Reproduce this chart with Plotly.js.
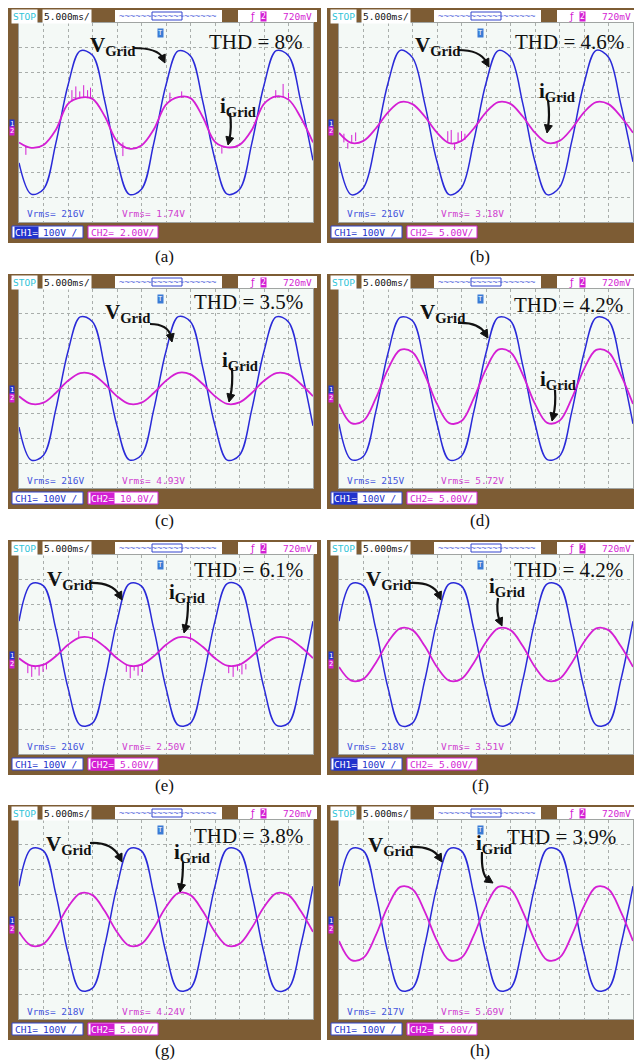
<!DOCTYPE html>
<html><head><meta charset="utf-8">
<script src="https://cdn.plot.ly/plotly-3.0.1.min.js"></script>
<style>body{margin:0;background:#fff}#chart{width:634px;height:1064px}</style>
</head><body><div id="chart"></div>
<script>
// ---------------- DATA ----------------
// time axis, ms (5 ms/div, 12 divisions)
const T = [0,2.5,5,7.5,10,12.5,15,17.5,20,22.5,25,27.5,30,32.5,35,37.5,40,42.5,45,47.5,50,52.5,55,57.5,60];
// grid voltage (CH1), in screen divisions (100 V/div)
const vA = [-1.62,-2.88,-2.68,-0.85,1.50,2.88,2.70,0.86,-1.50,-2.89,-2.68,-0.84,1.51,2.88,2.67,0.85,-1.49,-2.88,-2.69,-0.85,1.50,2.89,2.68,0.85,-1.52];
const vB = [-1.58,-2.90,-2.62,-0.76,1.58,2.90,2.61,0.76,-1.57,-2.90,-2.62,-0.75,1.58,2.89,2.62,0.77,-1.58,-2.90,-2.61,-0.76,1.57,2.90,2.62,0.75,-1.58];
const vC = [-1.55,-2.88,-2.68,-0.85,1.49,2.88,2.68,0.85,-1.50,-2.87,-2.67,-0.85,1.50,2.89,2.68,0.84,-1.49,-2.88,-2.68,-0.85,1.50,2.88,2.67,0.85,-1.50];
const vD = [-1.42,-2.86,-2.72,-0.94,1.42,2.86,2.72,0.94,-1.42,-2.87,-2.71,-0.94,1.43,2.86,2.72,0.93,-1.42,-2.86,-2.72,-0.94,1.42,2.85,2.72,0.94,-1.42];
const vE = [1.34,2.84,2.76,1.04,-1.34,-2.84,-2.76,-1.04,1.34,2.84,2.75,1.04,-1.35,-2.84,-2.76,-1.03,1.34,2.85,2.76,1.04,-1.34,-2.84,-2.76,-1.04,1.34];
const vF = [1.34,2.84,2.76,1.04,-1.34,-2.85,-2.76,-1.04,1.34,2.84,2.76,1.03,-1.34,-2.84,-2.75,-1.04,1.35,2.84,2.76,1.04,-1.34,-2.84,-2.76,-1.04,1.34];
const vG = [1.34,2.84,2.76,1.04,-1.34,-2.84,-2.76,-1.04,1.33,2.84,2.76,1.04,-1.34,-2.84,-2.76,-1.04,1.34,2.84,2.75,1.04,-1.34,-2.85,-2.76,-1.04,1.34];
const vH = [1.34,2.84,2.76,1.04,-1.34,-2.84,-2.76,-1.04,1.34,2.84,2.76,1.04,-1.34,-2.84,-2.76,-1.04,1.34,2.84,2.76,1.04,-1.34,-2.84,-2.76,-1.04,1.34];
// grid current (CH2), in screen divisions
const iA = [-0.80,-1.02,-0.90,-0.30,0.75,1.00,0.95,0.25,-0.75,-1.05,-0.92,-0.28,0.72,1.02,0.98,0.22,-0.78,-1.00,-0.90,-0.30,0.75,1.05,0.92,0.20,-0.80];
const iB = [-0.42,-0.82,-0.74,-0.24,0.41,0.82,0.74,0.24,-0.41,-0.83,-0.74,-0.24,0.41,0.82,0.75,0.24,-0.41,-0.82,-0.74,-0.25,0.41,0.82,0.74,0.24,-0.41];
const iC = [-0.31,-0.62,-0.57,-0.18,0.31,0.62,0.57,0.18,-0.31,-0.62,-0.57,-0.18,0.31,0.63,0.57,0.18,-0.31,-0.62,-0.56,-0.18,0.31,0.62,0.57,0.18,-0.31];
const iD = [-0.62,-1.39,-1.30,-0.40,0.78,1.55,1.46,0.56,-0.62,-1.39,-1.31,-0.40,0.78,1.56,1.46,0.56,-0.62,-1.38,-1.30,-0.40,0.78,1.55,1.46,0.56,-0.62];
const iE = [-0.15,-0.45,-0.41,-0.07,0.39,0.69,0.65,0.31,-0.15,-0.45,-0.41,-0.07,0.39,0.69,0.65,0.31,-0.15,-0.45,-0.41,-0.07,0.39,0.69,0.65,0.31,-0.15];
const iF = [-0.50,-1.05,-0.98,-0.34,0.50,1.05,0.98,0.34,-0.50,-1.05,-0.98,-0.34,0.50,1.05,0.98,0.34,-0.50,-1.05,-0.98,-0.34,0.50,1.05,0.98,0.34,-0.50];
const iG = [-0.50,-1.05,-0.98,-0.34,0.50,1.05,0.98,0.34,-0.50,-1.05,-0.98,-0.34,0.50,1.06,0.98,0.34,-0.50,-1.05,-0.98,-0.34,0.50,1.05,0.98,0.34,-0.50];
const iH = [-0.86,-1.63,-1.54,-0.64,0.54,1.31,1.22,0.32,-0.86,-1.63,-1.54,-0.64,0.54,1.31,1.22,0.32,-0.86,-1.63,-1.54,-0.64,0.54,1.31,1.22,0.32,-0.86];
// current noise spikes: time, start level, tip level (divisions)
const spkA_t = [1.4,10.8,11.6,12.4,13.2,14.0,14.6,21.2,30.8,33.2,41.4,52.4,53.9,55.0];
const spkA_b = [-0.95,0.85,0.92,0.96,1.00,0.98,0.95,-0.80,0.85,1.00,-0.95,0.98,1.00,0.95];
const spkA_e = [-1.30,1.30,1.45,1.25,1.50,1.30,1.40,-1.35,1.20,1.25,-1.25,1.30,1.55,1.20];
const spkB_t = [1.0,1.8,2.6,3.4,22.2,22.9,23.6,24.3,25.0,25.7,44.5];
const spkB_b = [-0.80,-0.82,-0.80,-0.75,-0.78,-0.82,-0.83,-0.80,-0.76,-0.70,-0.80];
const spkB_e = [-0.45,-1.05,-0.50,-0.40,-0.35,-0.30,-1.10,-0.40,-0.35,-0.45,-1.00];
const spkE_t = [1.8,2.6,3.3,4.1,4.9,5.6,12.2,15.0,21.9,22.7,23.5,24.3,25.2,35.0,42.8,43.7,44.6,45.5,46.3];
const spkE_b = [-0.42,-0.45,-0.46,-0.45,-0.42,-0.38,0.68,0.66,-0.42,-0.45,-0.46,-0.45,-0.42,0.60,-0.44,-0.46,-0.45,-0.42,-0.38];
const spkE_e = [-0.75,-0.90,-0.60,-0.85,-0.70,-0.60,0.95,0.90,-0.70,-0.95,-0.65,-0.85,-0.70,0.85,-0.75,-0.90,-0.65,-0.80,-0.60];
// texts
const panelTags = ['(a)','(b)','(c)','(d)','(e)','(f)','(g)','(h)'];
const thdText = ['THD = 8%','THD = 4.6%','THD = 3.5%','THD = 4.2%','THD = 6.1%','THD = 4.2%','THD = 3.8%','THD = 3.9%'];
const ch1Rms = ['216V','216V','216V','215V','216V','218V','218V','217V'];
const ch2Rms = ['1.74V','3.18V','4.93V','5.72V','2.50V','3.51V','4.24V','5.69V'];
const ch1Scale = ['100V /','100V /','100V /','100V /','100V /','100V /','100V /','100V /'];
const ch2Scale = ['2.00V/','5.00V/','10.0V/','5.00V/','5.00V/','5.00V/','5.00V/','5.00V/'];
const selCh = [1,0,2,1,2,1,2,2];
const timeBase = '5.000ms/';
const trigLevel = '720mV';

// ---------------- LAYOUT / STYLE ----------------
const W = 634, H = 1064;
const px = x => x / W, py = y => 1 - y / H;
const colX0 = [8, 327], colSX = [19, 339], colX1 = [321, 640];
const rowY0 = [8, 274, 540, 805], rowSY = [23, 289, 555, 820];
const SW = 294, SH = 199;
const BROWN = '#7d5c34', SCREEN = '#f4f9f6';
const BLUE = '#2a2ad8', MAG = '#d41fd4';
const MONO = 'DejaVu Sans Mono', SERIF = 'Liberation Serif';

const vSeries = [vA,vB,vC,vD,vE,vF,vG,vH];
const iSeries = [iA,iB,iC,iD,iE,iF,iG,iH];
const spikeSets = [[spkA_t,spkA_b,spkA_e],[spkB_t,spkB_b,spkB_e],null,null,[spkE_t,spkE_b,spkE_e],null,null,null];

const vgPos = [[88,42],[413,42],[103,309],[418,309],[45,576],[364,576],[44,841],[366,842]];
const igPos = [[218,103],[537,88],[220,357],[538,376],[167,589],[487,583],[172,849],[474,840]];
const thdPos = [[305,42],[626,42],[305,302],[625,305],[305,570],[625,570],[305,836],[618,837]];
const vArrow = [[133,48,158,48,165,63],[458,50,480,50,489,67],[150,324,168,324,172,342],[458,323,478,322,488,338],[89,583,112,582,122,600],[410,583,433,582,441,600],[90,843,112,842,122,862],[410,847,432,846,442,862]];
const iArrow = [[230,113,232,128,228,145],[548,100,550,116,547,133],[232,368,233,385,229,402],[555,390,556,405,552,421],[188,602,188,618,184,633],[498,598,496,612,502,626],[183,862,183,877,180,892],[482,852,481,875,493,883]];
const tagY = [256,256,520,520,785,785,1050,1050];

const traces = [], shapes = [], annotations = [];
const layout = {width:W, height:H, margin:{l:0,r:0,t:0,b:0}, paper_bgcolor:'#fff', plot_bgcolor:'rgba(0,0,0,0)', showlegend:false};

function ann(x, y, text, o) {
  annotations.push(Object.assign({xref:'paper', yref:'paper', x:px(x), y:py(y), text:text, showarrow:false, xanchor:'left', yanchor:'middle'}, o||{}));
}
function rect(x0,y0,x1,y1,fill,line,layer) {
  shapes.push({type:'rect', xref:'paper', yref:'paper', x0:px(x0), x1:px(x1), y0:py(y1), y1:py(y0), fillcolor:fill, line:line||{width:0}, layer:layer||'above'});
}
function curve(a) {
  const [x0,y0,cx,cy,x1,y1] = a;
  const dx = x1-cx, dy = y1-cy, L = Math.hypot(dx,dy) || 1;
  const ux = dx/L, uy = dy/L, hl = 8, hw = 4;
  const ex = x1 - ux*hl*0.7, ey = y1 - uy*hl*0.7;
  shapes.push({type:'path', xref:'paper', yref:'paper', layer:'above',
    path:`M ${px(x0)},${py(y0)} Q ${px(cx)},${py(cy)} ${px(ex)},${py(ey)}`, line:{color:'#111', width:2.2}});
  const bx = x1 - ux*hl, by = y1 - uy*hl;
  const lx = bx - uy*hw, ly = by + ux*hw, rx = bx + uy*hw, ry = by - ux*hw;
  shapes.push({type:'path', xref:'paper', yref:'paper', layer:'above', fillcolor:'#111',
    path:`M ${px(x1)},${py(y1)} L ${px(lx)},${py(ly)} L ${px(rx)},${py(ry)} Z`, line:{color:'#111', width:1}});
}

for (let p = 0; p < 8; p++) {
  const c = p % 2, r = Math.floor(p / 2);
  const X0 = colX0[c], SX = colSX[c], X1 = colX1[c];
  const Y0 = rowY0[r], SY = rowSY[r];
  const s = p === 0 ? '' : String(p + 1);
  rect(X0, Y0, X1, Y0 + 235, BROWN, {width:0}, 'below');
  rect(SX, SY, SX + SW, SY + SH, SCREEN, {width:0}, 'below');
  layout['xaxis' + s] = {domain:[px(SX), px(SX + SW)], range:[0,60], dtick:5, tick0:0, showgrid:true,
    gridcolor:'#a9aeab', griddash:'dot', gridwidth:1, zeroline:false, showticklabels:false, ticks:'',
    showline:true, mirror:true, linecolor:'#a0a4a2', linewidth:1, anchor:'y' + s, fixedrange:true};
  layout['yaxis' + s] = {domain:[py(SY + SH), py(SY)], range:[-4,4], dtick:1, tick0:0, showgrid:true,
    gridcolor:'#a9aeab', griddash:'dot', gridwidth:1, zeroline:false, showticklabels:false, ticks:'',
    showline:true, mirror:true, linecolor:'#a0a4a2', linewidth:1, anchor:'x' + s, fixedrange:true};
  traces.push({x:T, y:vSeries[p], xaxis:'x' + s, yaxis:'y' + s, mode:'lines', line:{color:BLUE, width:1.5, shape:'spline', smoothing:1}, hoverinfo:'skip'});
  traces.push({x:T, y:iSeries[p], xaxis:'x' + s, yaxis:'y' + s, mode:'lines', line:{color:MAG, width:1.8, shape:'spline', smoothing:1}, hoverinfo:'skip'});
  const sp = spikeSets[p];
  if (sp) {
    const xs = [], ys = [];
    sp[0].forEach((t, k) => { xs.push(t, t, null); ys.push(sp[1][k], sp[2][k], null); });
    traces.push({x:xs, y:ys, xaxis:'x' + s, yaxis:'y' + s, mode:'lines', line:{color:MAG, width:1}, hoverinfo:'skip'});
  }
  // top bar
  ann(X0 + 3, Y0 + 8, 'STOP', {font:{family:MONO, size:9.5, color:'#2fc4d8'}, bgcolor:'#fff', borderpad:1});
  ann(X0 + 34, Y0 + 8, timeBase, {font:{family:MONO, size:9.5, color:'#111'}, bgcolor:'#fff', borderpad:1});
  rect(X0 + 107, Y0 + 2, X0 + 214, Y0 + 14, '#fff', {width:0});
  ann(X0 + 160, Y0 + 8, '~~~~~~~~~~~~~~~~~~', {xanchor:'center', font:{family:MONO, size:9, color:'#5566dd'}});
  rect(X0 + 144, Y0 + 4, X0 + 174, Y0 + 12, 'rgba(0,0,0,0)', {color:'#3344cc', width:1});
  rect(X0 + 230, Y0 + 2, Math.min(X0 + 309, 634), Y0 + 14, '#fff', {width:0});
  ann(X0 + 240, Y0 + 8, 'ƒ', {font:{family:'DejaVu Sans', size:10, color:MAG}});
  ann(X0 + 252, Y0 + 8, '2', {font:{family:MONO, size:8, color:'#fff'}, bgcolor:MAG, borderpad:0});
  ann(X0 + 306, Y0 + 8, trigLevel, {xanchor:'right', font:{family:MONO, size:9.5, color:MAG}});
  ann(SX + 141, SY + 10, 'T', {xanchor:'center', font:{family:MONO, size:7, color:'#fff'}, bgcolor:'#3a7bd5', borderpad:0});
  const cy = SY + SH / 2;
  ann(X0 + 1, cy + 1, '1', {font:{family:MONO, size:7, color:'#fff'}, bgcolor:'#2233cc', borderpad:0});
  ann(X0 + 1, cy + 9, '2', {font:{family:MONO, size:7, color:'#fff'}, bgcolor:MAG, borderpad:0});
  ann(SX + 6, SY + SH - 8, 'Vrms= ' + ch1Rms[p], {font:{family:MONO, size:9.5, color:'#4455dd'}});
  ann(X0 + 112, SY + SH - 8, 'Vrms= ' + ch2Rms[p], {font:{family:MONO, size:9.5, color:'#d040d0'}});
  const by = Y0 + 224;
  rect(X0 + 4, by - 6, X0 + 75, by + 6, '#fff', {color:'#3344cc', width:1});
  rect(X0 + 80, by - 6, X0 + 150, by + 6, '#fff', {color:MAG, width:1});
  ann(X0 + 6, by, 'CH1=', {font:{family:MONO, size:9.5, color:selCh[p] === 1 ? '#fff' : '#2233cc'}, bgcolor:selCh[p] === 1 ? '#2233cc' : 'rgba(0,0,0,0)', borderpad:0});
  ann(X0 + 33, by, ch1Scale[p], {font:{family:MONO, size:9.5, color:'#2233cc'}});
  ann(X0 + 82, by, 'CH2=', {font:{family:MONO, size:9.5, color:selCh[p] === 2 ? '#fff' : MAG}, bgcolor:selCh[p] === 2 ? MAG : 'rgba(0,0,0,0)', borderpad:0});
  ann(X0 + 110, by, ch2Scale[p], {font:{family:MONO, size:9.5, color:MAG}});
  ann(vgPos[p][0], vgPos[p][1] + 4, '<b>V</b><sub><b>Grid</b></sub>', {font:{family:SERIF, size:21, color:'#111'}});
  ann(igPos[p][0], igPos[p][1] + 4, '<b>i</b><sub><b>Grid</b></sub>', {font:{family:SERIF, size:21, color:'#111'}});
  ann(thdPos[p][0], thdPos[p][1], thdText[p], {xanchor:'right', font:{family:SERIF, size:21, color:'#111'}});
  curve(vArrow[p]);
  curve(iArrow[p]);
  ann((X0 + Math.min(X1, 634)) / 2, tagY[p], panelTags[p], {xanchor:'center', font:{family:SERIF, size:17, color:'#111'}});
}
layout.shapes = shapes;
layout.annotations = annotations;
Plotly.newPlot('chart', traces, layout, {staticPlot:true, displayModeBar:false});
</script>
</body></html>
